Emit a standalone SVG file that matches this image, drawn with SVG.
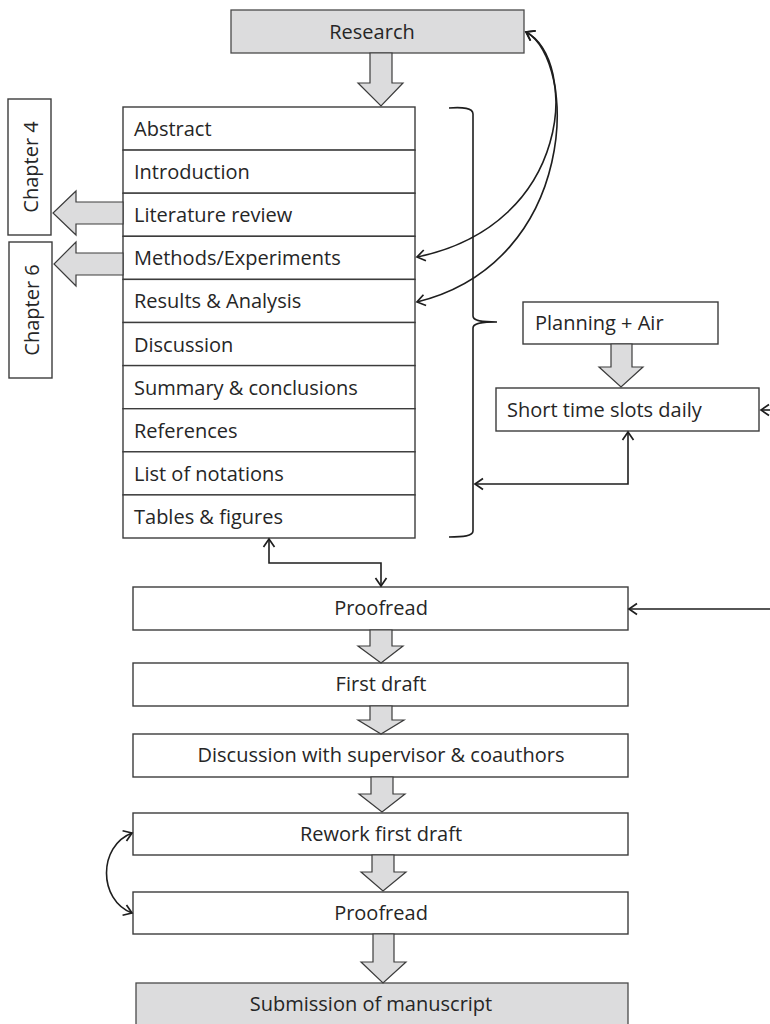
<svg xmlns="http://www.w3.org/2000/svg" width="770" height="1024" viewBox="0 0 770 1024">
<style>
.box{fill:#ffffff;stroke:#3c3c3c;stroke-width:1.4}
.gbox{fill:#dcdcdd;stroke:#4a4a4a;stroke-width:1.3}
.barrow{fill:#dcdcdd;stroke:#3c3c3c;stroke-width:1.2;stroke-linejoin:miter}
.t{font-family:"Open Sans","Noto Sans",sans-serif;font-size:20px;fill:#262626}
.c{text-anchor:middle}
.ln{fill:none;stroke:#1e1e1e;stroke-width:1.6}
</style>
<defs>
<marker id="ah" viewBox="-10 -7 12 14" markerWidth="12" markerHeight="14" refX="0" refY="0" orient="auto-start-reverse" markerUnits="userSpaceOnUse">
<path d="M-8,-5.5 L0,0 L-8,5.5" fill="none" stroke="#1e1e1e" stroke-width="1.7"/>
</marker>
</defs>
<rect width="770" height="1024" fill="#ffffff"/>

<g id="research">
<rect class="gbox" x="231" y="10" width="293" height="43"/>
<text class="t c" x="372" y="39">Research</text>
</g>

<g id="chapter4">
<rect class="box" x="8" y="99" width="43" height="136"/>
<text class="t c" transform="translate(38,167) rotate(-90)">Chapter 4</text>
</g>
<g id="chapter6">
<rect class="box" x="9" y="242" width="43" height="136"/>
<text class="t c" transform="translate(39,310) rotate(-90)">Chapter 6</text>
</g>

<g id="sections">
<rect class="box" x="123" y="107" width="292" height="43.1"/>
<rect class="box" x="123" y="150.1" width="292" height="43.1"/>
<rect class="box" x="123" y="193.2" width="292" height="43.1"/>
<rect class="box" x="123" y="236.3" width="292" height="43.1"/>
<rect class="box" x="123" y="279.4" width="292" height="43.1"/>
<rect class="box" x="123" y="322.5" width="292" height="43.1"/>
<rect class="box" x="123" y="365.6" width="292" height="43.1"/>
<rect class="box" x="123" y="408.7" width="292" height="43.1"/>
<rect class="box" x="123" y="451.8" width="292" height="43.1"/>
<rect class="box" x="123" y="494.9" width="292" height="43.1"/>
<text class="t" x="134" y="136">Abstract</text>
<text class="t" x="134" y="179">Introduction</text>
<text class="t" x="134" y="222">Literature review</text>
<text class="t" x="134" y="265">Methods/Experiments</text>
<text class="t" x="134" y="308">Results &amp; Analysis</text>
<text class="t" x="134" y="352">Discussion</text>
<text class="t" x="134" y="395">Summary &amp; conclusions</text>
<text class="t" x="134" y="438">References</text>
<text class="t" x="134" y="481">List of notations</text>
<text class="t" x="134" y="524">Tables &amp; figures</text>
</g>

<g id="planning">
<rect class="box" x="523" y="302" width="195" height="42"/>
<text class="t" x="535" y="330">Planning + Air</text>
</g>
<g id="slots">
<rect class="box" x="496" y="388" width="263" height="43"/>
<text class="t" x="507" y="417">Short time slots daily</text>
</g>

<g id="proofread1">
<rect class="box" x="133" y="587" width="495" height="43"/>
<text class="t c" x="381" y="615">Proofread</text>
</g>
<g id="firstdraft">
<rect class="box" x="133" y="663" width="495" height="43"/>
<text class="t c" x="381" y="691">First draft</text>
</g>
<g id="discussion">
<rect class="box" x="133" y="734" width="495" height="43"/>
<text class="t c" x="381" y="762">Discussion with supervisor &amp; coauthors</text>
</g>
<g id="rework">
<rect class="box" x="133" y="813" width="495" height="42"/>
<text class="t c" x="381" y="841">Rework first draft</text>
</g>
<g id="proofread2">
<rect class="box" x="133" y="892" width="495" height="42"/>
<text class="t c" x="381" y="920">Proofread</text>
</g>
<g id="submission">
<rect class="gbox" x="136" y="983" width="492" height="60"/>
<text class="t c" x="371" y="1011">Submission of manuscript</text>
</g>

<g id="connectors">
<path class="barrow" d="M370,53 L392,53 L392,83 L403,83 L381,106 L358,83 L370,83 Z"/>
<path class="barrow" d="M123,202 L76,202 L76,191 L53,213 L76,235 L76,224 L123,224 Z"/>
<path class="barrow" d="M123,253 L76,253 L76,242 L54,264 L76,286 L76,275 L123,275 Z"/>
<path class="barrow" d="M611,344 L632,344 L632,367 L643,367 L621,387 L599,367 L611,367 Z"/>
<path class="barrow" d="M370,630 L392,630 L392,646 L403,646 L381,663 L358,646 L370,646 Z"/>
<path class="barrow" d="M370,706 L392,706 L392,720 L404,720 L381,734 L358,720 L370,720 Z"/>
<path class="barrow" d="M371,777 L393,777 L393,794 L405,794 L382,812 L359,794 L371,794 Z"/>
<path class="barrow" d="M372,855 L394,855 L394,872 L406,872 L383,891 L361,872 L372,872 Z"/>
<path class="barrow" d="M373,934 L394,934 L394,962 L406,962 L383,983 L361,962 L373,962 Z"/>
<path class="ln" d="M449,108 C463,107 473,108 473,114 L473,316 C473,320 478,322 497,322 C478,322 473,324 473,328 L473,531 C473,536 463,537 449,537"/>
<path class="ln" d="M526,32 C578,60 574,225 417,257" marker-start="url(#ah)" marker-end="url(#ah)"/>
<path class="ln" d="M526,32 C578,60 579,262 417,302" marker-start="url(#ah)" marker-end="url(#ah)"/>
<path class="ln" d="M475,484 L628,484 L628,432" marker-start="url(#ah)" marker-end="url(#ah)"/>
<path class="ln" d="M772,410 L761,410" marker-end="url(#ah)"/>
<path class="ln" d="M772,609 L629,609" marker-end="url(#ah)"/>
<path class="ln" d="M269,539 L269,563 L381,563 L381,586" marker-start="url(#ah)" marker-end="url(#ah)"/>
<path class="ln" d="M132,833 C98,846 98,900 132,913" marker-start="url(#ah)" marker-end="url(#ah)"/>
</g>
</svg>
